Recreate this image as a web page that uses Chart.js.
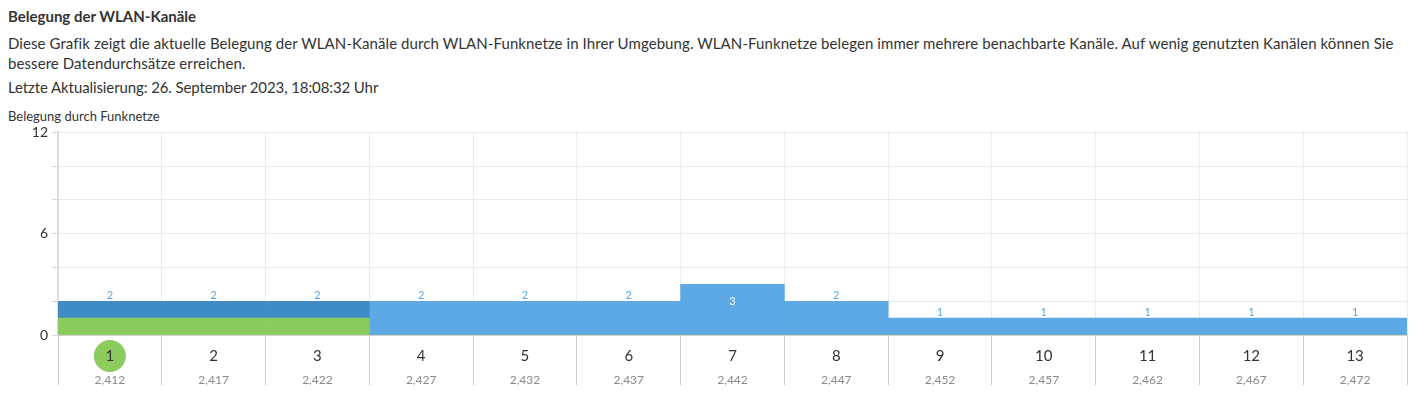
<!DOCTYPE html>
<html>
<head>
<meta charset="utf-8">
<script src="https://cdn.jsdelivr.net/npm/chart.js@4"></script>
<style>
  body { margin: 0; background: #fff; font-family: Lato, "Noto Sans", sans-serif; color: #333; }
  .head { position: absolute; left: 8px; top: 0; width: 1410px; }
  h3 { margin: 0; position: absolute; top: 7px; font-size: 15px; font-weight: bold; white-space: nowrap; }
  .desc { position: absolute; top: 33px; font-size: 15px; letter-spacing: 0.08px; line-height: 20px; white-space: nowrap; }
  .upd { position: absolute; top: 78px; font-size: 15px; letter-spacing: -0.1px; white-space: nowrap; }
  .ylab { position: absolute; top: 108px; font-size: 13px; white-space: nowrap; }
  .wrap { position: absolute; left: 0; top: 120px; width: 1427px; height: 279px; }
</style>
</head>
<body>
<div class="head">
  <h3>Belegung der WLAN-Kanäle</h3>
  <div class="desc">Diese Grafik zeigt die aktuelle Belegung der WLAN-Kanäle durch WLAN-Funknetze in Ihrer Umgebung. WLAN-Funknetze belegen immer mehrere benachbarte Kanäle. Auf wenig genutzten Kanälen können Sie<br>bessere Datendurchsätze erreichen.</div>
  <div class="upd">Letzte Aktualisierung: 26. September 2023, 18:08:32 Uhr</div>
  <div class="ylab">Belegung durch Funknetze</div>
</div>
<div class="wrap"><canvas id="wlanChart"></canvas></div>
<script>
// Kanäle und Frequenzen (GHz)
const channels = ['1', '2', '3', '4', '5', '6', '7', '8', '9', '10', '11', '12', '13'];
const frequencies = ['2,412', '2,417', '2,422', '2,427', '2,432', '2,437', '2,442', '2,447', '2,452', '2,457', '2,462', '2,467', '2,472'];
// eigenes Funknetz
const ownNetwork = [1, 1, 1, 0, 0, 0, 0, 0, 0, 0, 0, 0, 0];
// Funknetze auf dem eigenen Kanal
const sameChannel = [1, 1, 1, 0, 0, 0, 0, 0, 0, 0, 0, 0, 0];
// weitere Funknetze
const otherNetworks = [0, 0, 0, 2, 2, 2, 3, 2, 1, 1, 1, 1, 1];
const activeChannel = 0;

const totals = channels.map((c, i) => ownNetwork[i] + sameChannel[i] + otherNetworks[i]);

const labelPlugin = {
    id: 'wlanLabels',
    afterDatasetsDraw(chart) {
        const ctx = chart.ctx;
        const x = chart.scales.x;
        const y = chart.scales.y;
        ctx.save();
        ctx.textAlign = 'center';
        ctx.textBaseline = 'middle';
        // Summen über den Balken
        ctx.font = '11px Lato, "Noto Sans", sans-serif';
        totals.forEach((t, i) => {
            const px = x.getPixelForValue(i);
            const top = y.getPixelForValue(t);
            if (t >= 3) {
                ctx.fillStyle = '#ffffff';
                ctx.fillText(t, px, top + 17);
            } else {
                ctx.fillStyle = '#5aa7e4';
                ctx.fillText(t, px, top - 6);
            }
        });
        // Kanal und Frequenz unter der Achse
        const base = y.getPixelForValue(0);
        channels.forEach((c, i) => {
            const px = x.getPixelForValue(i);
            if (i === activeChannel) {
                ctx.fillStyle = '#8ccb5e';
                ctx.beginPath();
                ctx.arc(px, base + 21, 16, 0, Math.PI * 2);
                ctx.fill();
            }
            ctx.fillStyle = '#333333';
            ctx.font = '15px Lato, "Noto Sans", sans-serif';
            ctx.fillText(c, px, base + 21);
            ctx.fillStyle = '#8a8a8a';
            ctx.font = '12px Lato, "Noto Sans", sans-serif';
            ctx.fillText(frequencies[i], px, base + 45);
        });
        ctx.restore();
    }
};

const ctx = document.getElementById('wlanChart').getContext('2d');
new Chart(ctx, {
    type: 'bar',
    data: {
        labels: channels,
        datasets: [{
            label: 'Eigenes Funknetz',
            data: ownNetwork,
            backgroundColor: '#8ccb5e'
        }, {
            label: 'Gleicher Kanal',
            data: sameChannel,
            backgroundColor: '#3f8bc4'
        }, {
            label: 'Weitere Funknetze',
            data: otherNetworks,
            backgroundColor: '#5ca9e5'
        }]
    },
    options: {
        responsive: true,
        maintainAspectRatio: false,
        animation: false,
        layout: {
            padding: { top: 10, right: 20, bottom: 14, left: 0 }
        },
        datasets: {
            bar: {
                barPercentage: 1,
                categoryPercentage: 1
            }
        },
        plugins: {
            legend: { display: false },
            tooltip: { enabled: false }
        },
        scales: {
            x: {
                stacked: true,
                grid: {
                    offset: true,
                    color: '#ececec',
                    tickColor: '#cccccc',
                    tickLength: 50
                },
                border: { color: '#d0d0d0', width: 2 },
                ticks: { display: false }
            },
            y: {
                stacked: true,
                min: 0,
                max: 12,
                afterFit(scale) { scale.width = 58; },
                ticks: {
                    stepSize: 2,
                    padding: 4,
                    color: '#333333',
                    font: { size: 14, family: 'Lato, "Noto Sans", sans-serif' },
                    callback: v => (v % 6 === 0 ? v : '')
                },
                grid: {
                    color: '#ececec',
                    tickColor: '#d5d5d5',
                    tickLength: 6
                },
                border: { color: '#dcdcdc', width: 2 }
            }
        }
    },
    plugins: [labelPlugin]
});
</script>
</body>
</html>
